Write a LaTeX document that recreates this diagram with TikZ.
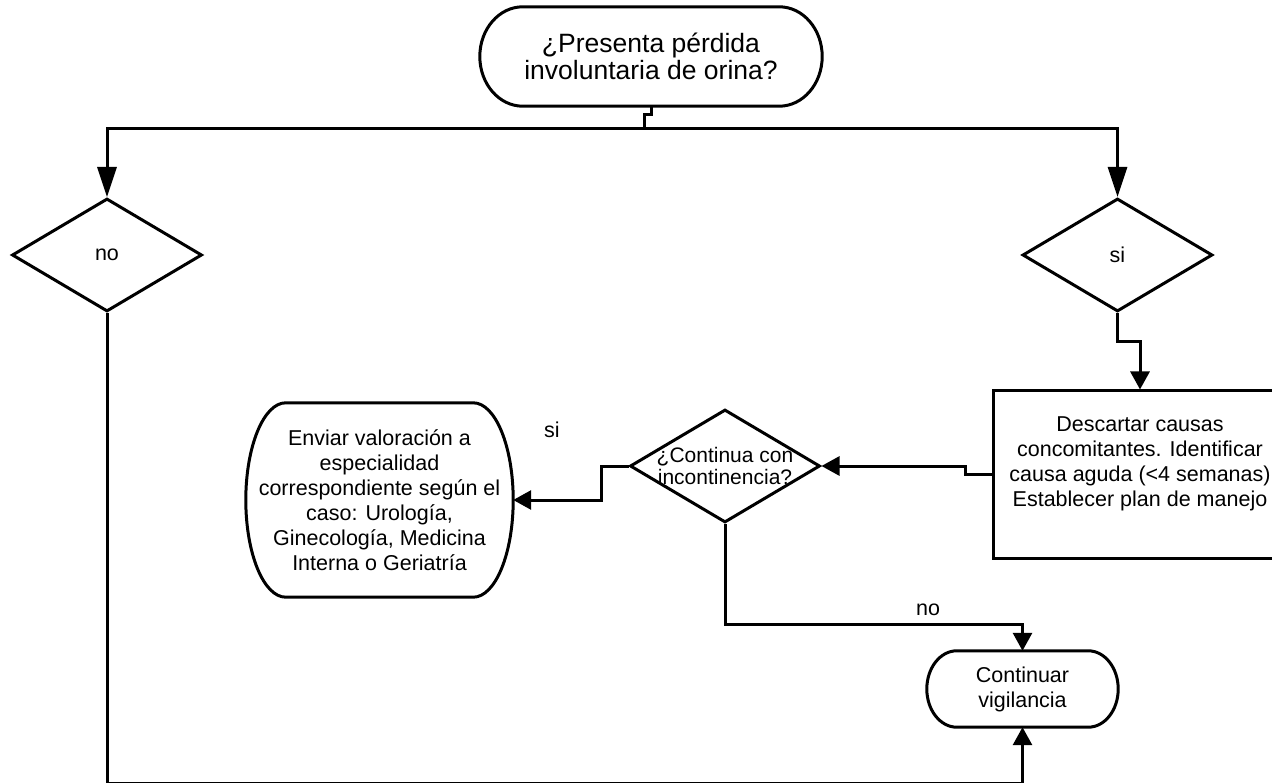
\documentclass[tikz,border=0pt]{standalone}
\usepackage{fontspec}
\setmainfont{Liberation Sans}
\usetikzlibrary{arrows.meta, shapes.geometric, calc}

\newcommand{\bodyfont}{\fontsize{21.5}{25}\selectfont}
\newcommand{\titlefont}{\fontsize{26.5}{27}\selectfont}

% outline of a terminal node: #1 node name, #2 radius of its rounded ends
\newcommand{\termedge}[2]{%
  \draw[line] let \p1=(#1.north east), \p2=(#1.south west), \n1={(\y1-\y2)/2} in
    (\x2+#2,\y1) -- (\x1-#2,\y1)
    arc[start angle=90, end angle=-90, x radius=#2, y radius=\n1]
    -- (\x2+#2,\y2)
    arc[start angle=270, end angle=90, x radius=#2, y radius=\n1] -- cycle;}

\begin{document}
\begin{tikzpicture}[x=1pt, y=-1pt,
    % Define styles for reusable components
    line/.style={line width=3pt},
    arrow/.style={line, -{Triangle[length=18pt, width=19pt]}},
    longarrow/.style={line, -{Triangle[length=30pt, width=19pt]}},
    term/.style={align=center, inner sep=0pt, font=\bodyfont},
    decision/.style={draw, line, diamond, minimum width=190pt, minimum height=113pt, inner sep=0pt, font=\bodyfont},
    process/.style={draw, line, rectangle, minimum width=294pt, minimum height=167pt, inner sep=0pt},
    inside/.style={align=center, inner sep=0pt, font=\bodyfont},
    tag/.style={font=\bodyfont, inner sep=0pt}
]
    \useasboundingbox (0,0) rectangle (1272,783);

    % --- QUESTION ---
    \node[term, font=\titlefont, minimum width=342pt, minimum height=99pt] (start) at (651,56.5)
        {¿Presenta pérdida\\involuntaria de orina?};
    \termedge{start}{43pt}

    % --- FIRST DECISION ---
    \node[decision] (dno) at (107,255) {no};
    \node[decision] (dsi) at (1117.5,255) {si};

    \coordinate (jog) at (644,115);
    \coordinate (split) at (644,129);
    \draw[line] (start.south) |- (jog) -- (split);
    \draw[longarrow] (split) -| (dno.north);
    \draw[longarrow] (split) -| (dsi.north);

    % --- MANAGEMENT PLAN ---
    % text sits a little above the middle of the box
    \node[process, label={[inside, yshift=11pt]center:Descartar causas\\concomitantes. Identificar\\causa aguda (<4 semanas)\\Establecer plan de manejo}]
        (plan) at (1140,474.5) {};
    \draw[arrow] (dsi.south) -- ++(0,29) -| (plan.north);

    % --- SECOND DECISION ---
    \node[decision, label={[inside, font=\fontsize{21}{21.5}\selectfont]center:¿Continua con\\incontinencia?}]
        (dcont) at (725,466) {};
    \draw[arrow] (plan.west) -- ++(-26,0) |- (dcont.east);

    % --- REFERRAL ---
    \node[term, minimum width=267pt, minimum height=194pt] (refer) at (379.5,500)
        {Enviar valoración a\\especialidad\\correspondiente según el\\caso: Urología,\\Ginecología, Medicina\\Interna o Geriatría};
    \termedge{refer}{40pt}
    \draw[arrow] (dcont.west) -- ++(-27,0) |- (refer.east);
    \node[tag] (lsi) at (552,430) {si};

    % --- SURVEILLANCE ---
    \node[term, minimum width=191pt, minimum height=76pt] (watch) at (1022.5,689)
        {Continuar\\vigilancia};
    \termedge{watch}{30pt}
    \draw[arrow] (dcont.south) -- ++(0,100) -| (watch.north);
    \node[tag] (lno) at (928,610) {no};
    \draw[arrow] (dno.south) -- ++(0,470) -| (watch.south);

\end{tikzpicture}
\end{document}
